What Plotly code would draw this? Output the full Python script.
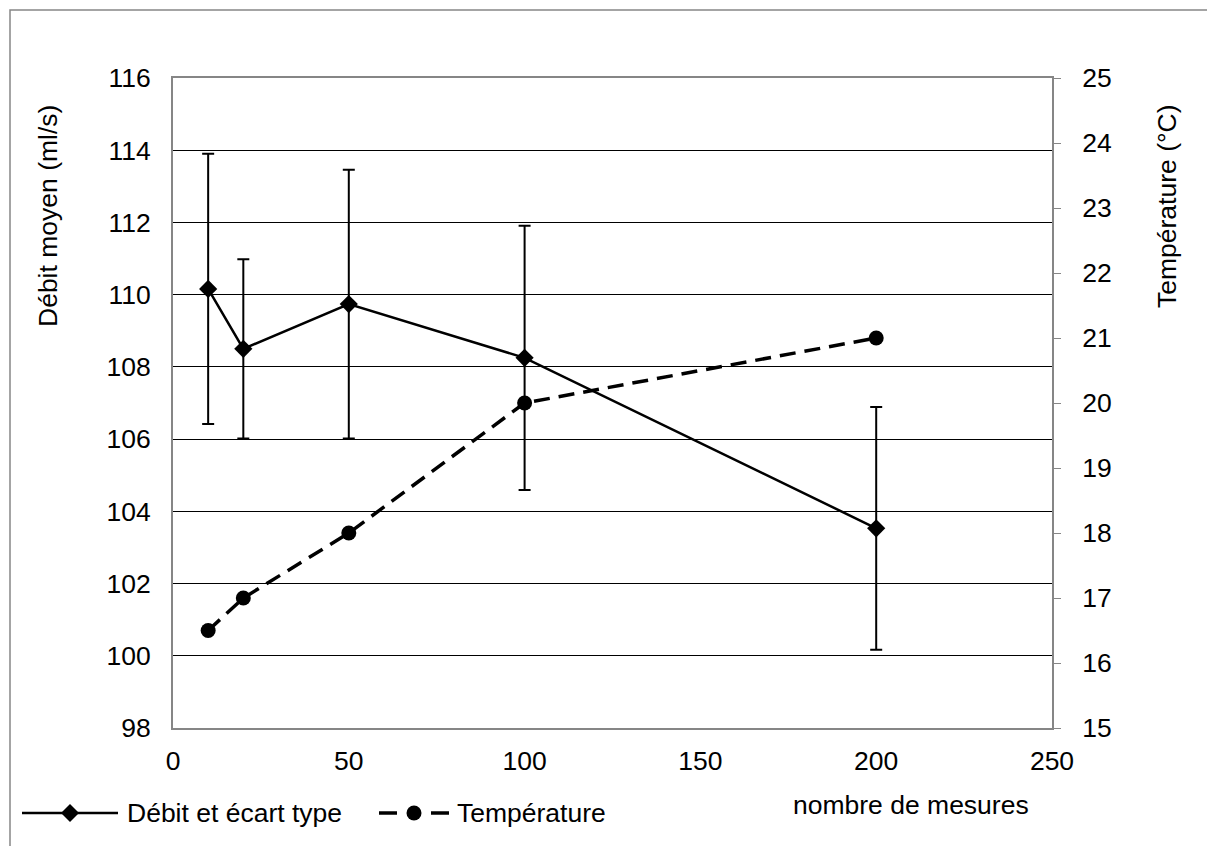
import plotly.graph_objects as go

# données
n_mesures = [10, 20, 50, 100, 200]
debit = [110.16, 108.5, 109.74, 108.25, 103.53]
ecart_type = [3.74, 2.48, 3.72, 3.66, 3.36]
temperature = [16.5, 17.0, 18.0, 20.0, 21.0]

x_ticks = [0, 50, 100, 150, 200, 250]
y_ticks = [98, 100, 102, 104, 106, 108, 110, 112, 114, 116]
y2_ticks = [15, 16, 17, 18, 19, 20, 21, 22, 23, 24, 25]

noms = ["Débit et écart type", "Température"]

FONT = "Arial, Liberation Sans, sans-serif"
GRIS = "#868686"
TAILLE = 26.5


# pixels de la page -> coordonnées "paper" (zone de tracé 173..1052 x 78..728)
def px(x):
    return (x - 173) / 879


def py(y):
    return (728 - y) / 650


fig = go.Figure()
fig.add_trace(go.Scatter(
    x=n_mesures, y=debit, name=noms[0],
    mode="lines+markers",
    line=dict(color="black", width=2.5),
    marker=dict(symbol="diamond", size=14, color="black"),
    error_y=dict(type="data", array=ecart_type, visible=True,
                 color="black", thickness=2, width=6),
))
fig.add_trace(go.Scatter(
    x=n_mesures, y=temperature, name=noms[1], yaxis="y2",
    mode="lines+markers",
    line=dict(color="black", width=3.5, dash="16px,9px"),
    marker=dict(symbol="circle", size=15, color="black"),
))

shapes = [
    # cadre extérieur (dépasse à droite et en bas)
    dict(type="rect", xref="paper", yref="paper", x0=px(10), y0=-1.5, x1=2.0, y1=py(10),
         line=dict(color=GRIS, width=1.5)),
]

# légende dessinée à la main (symboles plus longs que ceux de plotly)
yl = 813
shapes.append(dict(type="line", xref="paper", yref="paper", x0=px(22), x1=px(118),
                   y0=py(yl), y1=py(yl), line=dict(color="black", width=2.5)))
shapes.append(dict(type="path", xref="paper", yref="paper",
                   path=f"M {px(61)} {py(yl)} L {px(70)} {py(yl - 9)} L {px(79)} {py(yl)} "
                        f"L {px(70)} {py(yl + 9)} Z",
                   fillcolor="black", line=dict(color="black", width=0)))
for a, b in [(379, 397), (431, 449)]:
    shapes.append(dict(type="line", xref="paper", yref="paper", x0=px(a), x1=px(b),
                       y0=py(yl), y1=py(yl), line=dict(color="black", width=3.5)))
shapes.append(dict(type="circle", xref="paper", yref="paper",
                   x0=px(406.5), x1=px(421.5), y0=py(yl + 7.5), y1=py(yl - 7.5),
                   fillcolor="black", line=dict(color="black", width=0)))

fig.update_layout(
    width=1215, height=846,
    # la page ajoute 8 px de marge au corps
    margin=dict(l=165, r=171, t=70, b=126),
    paper_bgcolor="white", plot_bgcolor="white",
    font=dict(family=FONT, size=TAILLE, color="black"),
    showlegend=False,
    shapes=shapes,
    xaxis=dict(range=[0, 250], tickvals=x_ticks, showgrid=False, zeroline=False,
               showline=True, linecolor=GRIS, linewidth=2, mirror=True,
               ticks="", ticklabelstandoff=8),
    yaxis=dict(range=[98, 116], tickvals=y_ticks, showgrid=True, gridcolor="black",
               gridwidth=1, zeroline=False, showline=True, linecolor=GRIS, linewidth=2,
               ticks="", ticklabelstandoff=15),
    yaxis2=dict(range=[15, 25], tickvals=y2_ticks, overlaying="y", side="right",
                showgrid=False, zeroline=False, showline=True, linecolor=GRIS, linewidth=2,
                ticks="outside", ticklen=7, tickcolor=GRIS, ticklabelstandoff=16),
    annotations=[
        dict(text="Débit moyen (ml/s)", textangle=-90, xref="paper", yref="paper",
             x=px(48), y=py(216), showarrow=False, xanchor="center", yanchor="middle"),
        dict(text="Température (°C)", textangle=-90, xref="paper", yref="paper",
             x=px(1167), y=py(206), showarrow=False, xanchor="center", yanchor="middle"),
        dict(text="nombre de mesures", xref="paper", yref="paper",
             x=px(911), y=py(805), showarrow=False, xanchor="center", yanchor="middle"),
        dict(text=noms[0], xref="paper", yref="paper",
             x=px(125), y=py(yl), showarrow=False, xanchor="left", yanchor="middle"),
        dict(text=noms[1], xref="paper", yref="paper",
             x=px(455), y=py(yl), showarrow=False, xanchor="left", yanchor="middle"),
    ],
)

fig.write_html("out.html")
